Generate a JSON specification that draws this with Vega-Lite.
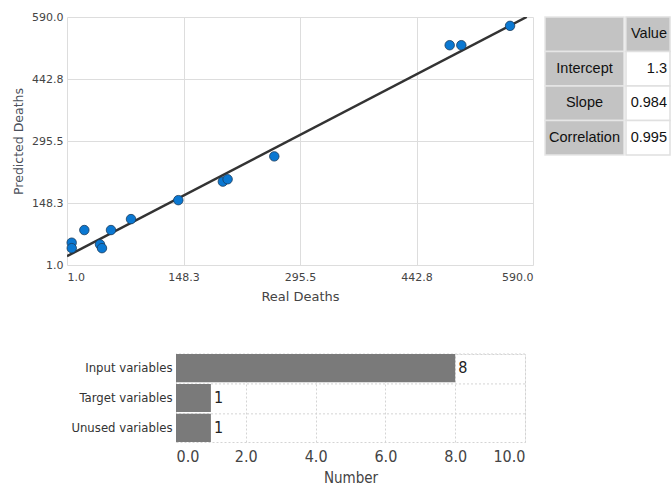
{
  "$schema": "https://vega.github.io/schema/vega-lite/v6.json",
  "padding": {"left": 12, "top": 11, "right": 0, "bottom": 0},
  "background": "white",
  "config": {
    "view": {"stroke": null},
    "font": "DejaVu Sans",
    "axis": {"labelColor": "#444444", "titleColor": "#4a4f5a", "titleFontWeight": "normal", "labelFontSize": 11, "titleFontSize": 12}
  },
  "datasets": {
    "pts": [
      {"real": 6.9, "pred": 54},
      {"real": 7, "pred": 41},
      {"real": 22.9, "pred": 84},
      {"real": 42.7, "pred": 50},
      {"real": 45.2, "pred": 41},
      {"real": 56.6, "pred": 84},
      {"real": 81.9, "pred": 110},
      {"real": 141.7, "pred": 155},
      {"real": 198, "pred": 199},
      {"real": 204, "pred": 204.6},
      {"real": 263, "pred": 259},
      {"real": 484.7, "pred": 523},
      {"real": 499.4, "pred": 523},
      {"real": 561, "pred": 569}
    ],
    "fit": [
      {"real": 1, "pred": 22},
      {"real": 582, "pred": 590}
    ],
    "table": [
      {"row": "Header", "label": "", "value": "Value", "kind": "header"},
      {"row": "Intercept", "label": "Intercept", "value": "1.3", "kind": "cell"},
      {"row": "Slope", "label": "Slope", "value": "0.984", "kind": "cell"},
      {"row": "Correlation", "label": "Correlation", "value": "0.995", "kind": "cell"}
    ],
    "vars": [
      {"type": "Input variables", "number": 8},
      {"type": "Target variables", "number": 1},
      {"type": "Unused variables", "number": 1}
    ]
  },
  "vconcat": [
    {
      "hconcat": [
        {
          "width": 466,
          "height": 248,
          "layer": [
            {
              "data": {"name": "fit"},
              "mark": {"type": "line", "color": "#333333", "strokeWidth": 2.5, "clip": true},
              "encoding": {
                "x": {"field": "real", "type": "quantitative"},
                "y": {"field": "pred", "type": "quantitative"}
              }
            },
            {
              "data": {"name": "pts"},
              "mark": {"type": "circle", "size": 90, "color": "#0a78d2", "opacity": 1, "stroke": "#1d3c5c", "strokeWidth": 0.8},
              "encoding": {
                "x": {"field": "real", "type": "quantitative", "title": "Real Deaths",
                  "scale": {"domain": [1, 590], "nice": false, "zero": false},
                  "axis": {"values": [1, 148.25, 295.5, 442.75, 590], "format": ".1f", "ticks": false, "domain": false, "gridColor": "#dddddd", "labelPadding": 6, "titlePadding": 8, "titleFontSize": 13, "titleColor": "#444444"}},
                "y": {"field": "pred", "type": "quantitative", "title": "Predicted Deaths",
                  "scale": {"domain": [1, 590], "nice": false, "zero": false},
                  "axis": {"values": [1, 148.25, 295.5, 442.75, 590], "format": ".1f", "ticks": false, "domain": false, "gridColor": "#dddddd", "labelPadding": 4, "titlePadding": 6, "titleFontSize": 12.5}}
              }
            }
          ]
        },
        {
          "hconcat": [
            {
              "width": 79,
              "height": 138,
              "data": {"name": "table"},
              "layer": [
                {
                  "mark": {"type": "rect", "fill": "#c3c3c3", "stroke": "#e6e6e6", "strokeWidth": 1.5},
                  "encoding": {
                    "y": {"field": "row", "type": "nominal", "sort": null, "axis": null, "scale": {"paddingInner": 0, "paddingOuter": 0}}
                  }
                },
                {
                  "mark": {"type": "text", "font": "Liberation Sans", "fontSize": 14.5, "color": "#111111", "align": "center"},
                  "encoding": {
                    "y": {"field": "row", "type": "nominal", "sort": null, "axis": null},
                    "text": {"field": "label"}
                  }
                }
              ]
            },
            {
              "width": 44,
              "height": 138,
              "data": {"name": "table"},
              "layer": [
                {
                  "mark": {"type": "rect", "stroke": "#e0e0e0", "strokeWidth": 1.5},
                  "encoding": {
                    "y": {"field": "row", "type": "nominal", "sort": null, "axis": null, "scale": {"paddingInner": 0, "paddingOuter": 0}},
                    "fill": {"field": "kind", "type": "nominal", "scale": {"domain": ["header", "cell"], "range": ["#c3c3c3", "#ffffff"]}, "legend": null}
                  }
                },
                {
                  "mark": {"type": "text", "font": "Liberation Sans", "fontSize": 14.5, "color": "#111111", "align": "right", "dx": -3},
                  "encoding": {
                    "y": {"field": "row", "type": "nominal", "sort": null, "axis": null},
                    "x": {"datum": 1, "type": "quantitative", "scale": {"domain": [0, 1], "nice": false}, "axis": null},
                    "text": {"field": "value"}
                  }
                }
              ]
            }
          ],
          "spacing": 0
        }
      ],
      "spacing": 12,
      "bounds": "flush"
    },
    {
      "hconcat": [
        {
          "width": 109,
          "height": 10,
          "data": {"values": []},
          "mark": "point"
        },
        {
          "width": 349,
          "height": 88,
          "data": {"name": "vars"},
          "view": {"stroke": "#d4d4d4", "strokeDash": [2, 2]},
          "layer": [
            {
              "mark": {"type": "rule", "color": "#d4d4d4", "strokeDash": [2, 2]},
              "encoding": {
                "y": {"field": "type", "type": "nominal", "sort": null, "bandPosition": 0}
              }
            },
            {
              "mark": {"type": "bar", "color": "#7a7a7a"},
              "encoding": {
                "y": {"field": "type", "type": "nominal", "sort": null, "title": null,
                  "scale": {"paddingInner": 0.06, "paddingOuter": 0},
                  "axis": {"ticks": false, "domain": false, "labelPadding": 4, "labelFont": "Liberation Sans Narrow, DejaVu Sans Condensed, sans-serif", "labelFontSize": 13, "labelColor": "#333333"}},
                "x": {"field": "number", "type": "quantitative", "title": "Number",
                  "scale": {"domain": [0, 10], "nice": false},
                  "axis": {"values": [0, 2, 4, 6, 8, 10], "format": ".1f", "ticks": false, "domain": false, "gridColor": "#d4d4d4", "gridDash": [2, 2], "labelFont": "Liberation Sans Narrow, DejaVu Sans Condensed, sans-serif", "labelFontSize": 16, "labelColor": "#444444", "titleFont": "Liberation Sans Narrow, DejaVu Sans Condensed, sans-serif", "titleFontSize": 15, "titleColor": "#444444", "labelPadding": 6, "titlePadding": 6}}
              }
            },
            {
              "mark": {"type": "text", "align": "left", "dx": 3, "font": "Liberation Sans Narrow, DejaVu Sans Condensed, sans-serif", "fontSize": 16, "color": "#222222"},
              "encoding": {
                "y": {"field": "type", "type": "nominal", "sort": null},
                "x": {"field": "number", "type": "quantitative"},
                "text": {"field": "number", "type": "quantitative"}
              }
            }
          ]
        }
      ],
      "spacing": 0,
      "bounds": "flush"
    }
  ],
  "spacing": 50
}
